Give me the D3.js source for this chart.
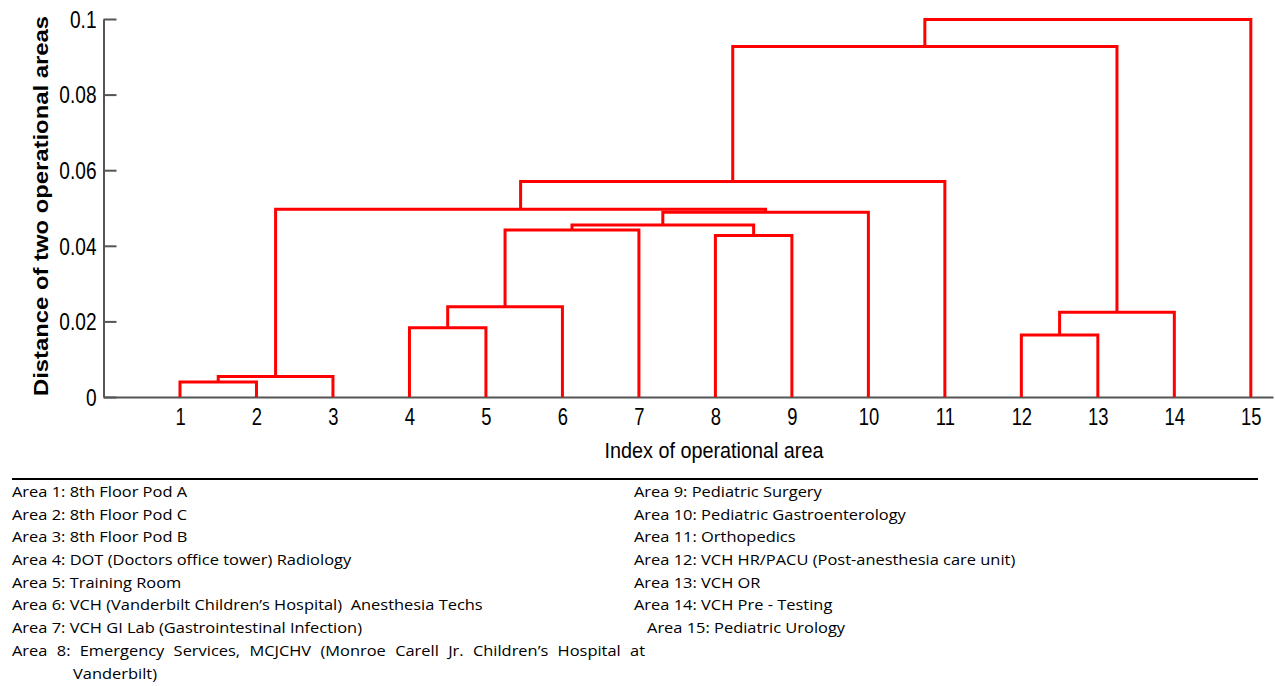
<!DOCTYPE html>
<html>
<head>
<meta charset="utf-8">
<script src="https://cdn.jsdelivr.net/npm/d3@7/dist/d3.min.js"></script>
<style>
  body { margin: 0; background: #fff; }
  .tick text { font-family: "Liberation Sans", Arial, sans-serif; fill: #000; }
  .legend text { font-family: "Open Sans", sans-serif; font-size: 14.3px; fill: #000; white-space: pre; }
</style>
</head>
<body>
<svg id="chart" width="1275" height="686"></svg>
<script>
// leaves shown on the x axis
const leaves = [1, 2, 3, 4, 5, 6, 7, 8, 9, 10, 11, 12, 13, 14, 15];
// merges (MATLAB style: node 16.. are clusters)
const mergeLeft  = [1, 16, 4, 18, 19, 8, 20, 22, 17, 24, 12, 26, 25, 28];
const mergeRight = [2, 3, 5, 6, 7, 9, 21, 10, 23, 11, 13, 14, 27, 15];
const mergeHeight = [0.0040, 0.0054, 0.0183, 0.0239, 0.0442, 0.0427, 0.0455,
                     0.0489, 0.0497, 0.0570, 0.0164, 0.0224, 0.0927, 0.0999];
const yTicks = [0, 0.02, 0.04, 0.06, 0.08, 0.1];

const legendLeft = [
  "Area 1: 8th Floor Pod A",
  "Area 2: 8th Floor Pod C",
  "Area 3: 8th Floor Pod B",
  "Area 4: DOT (Doctors office tower) Radiology",
  "Area 5: Training Room",
  "Area 6: VCH (Vanderbilt Children\u2019s Hospital)  Anesthesia Techs",
  "Area 7: VCH GI Lab (Gastrointestinal Infection)",
  "Area 8: Emergency Services, MCJCHV (Monroe Carell Jr. Children\u2019s Hospital at",
  "Vanderbilt)"
];
const legendRight = [
  "Area 9: Pediatric Surgery",
  "Area 10: Pediatric Gastroenterology",
  "Area 11: Orthopedics",
  "Area 12: VCH HR/PACU (Post-anesthesia care unit)",
  "Area 13: VCH OR",
  "Area 14: VCH Pre - Testing",
  "Area 15: Pediatric Urology"
];

var svg = d3.select("#chart");

var x = d3.scaleLinear().domain([0, 15.29]).range([103.5, 1273]);
var y = d3.scaleLinear().domain([0, 0.1]).range([397, 19]);

// node positions / heights
var pos = {}, hgt = {};
leaves.forEach(function(l) { pos[l] = l; hgt[l] = 0; });
mergeLeft.forEach(function(a, i) {
  var b = mergeRight[i], id = 16 + i;
  pos[id] = (pos[a] + pos[b]) / 2;
  hgt[id] = mergeHeight[i];
});

// axes
var sx = 0.83;
var yAxis = svg.append("g")
  .attr("transform", "translate(" + x(0) + ",0)")
  .call(d3.axisLeft(y).tickValues(yTicks).tickFormat(d3.format("~g"))
    .tickSizeInner(-13).tickSizeOuter(0));
yAxis.select(".domain").attr("stroke", "#555").attr("stroke-width", 2);
yAxis.selectAll(".tick line").attr("stroke", "#555").attr("stroke-width", 2);
yAxis.selectAll(".tick text").attr("font-size", 23)
  .attr("x", -7 / sx).attr("dy", "0.36em")
  .attr("transform", "scale(" + sx + ",1)");

var xAxis = svg.append("g")
  .attr("transform", "translate(0," + y(0) + ")")
  .call(d3.axisBottom(x).tickValues(leaves).tickSize(0).tickPadding(12));
xAxis.select(".domain").attr("stroke", "#555").attr("stroke-width", 2);
xAxis.selectAll(".tick text").attr("font-size", 23)
  .attr("transform", "scale(0.8,1)");

// dendrogram links
svg.append("g").selectAll("path")
  .data(mergeLeft.map(function(a, i) { return {a: a, b: mergeRight[i], h: mergeHeight[i]}; }))
  .enter().append("path")
  .attr("d", function(d) {
    return "M" + x(pos[d.a]) + "," + y(hgt[d.a]) +
           "V" + y(d.h) + "H" + x(pos[d.b]) + "V" + y(hgt[d.b]);
  })
  .attr("fill", "none")
  .attr("stroke", "#ff0000")
  .attr("stroke-width", 3)
  .attr("stroke-linejoin", "miter");

// axis titles
svg.append("text")
  .attr("transform", "translate(48,206) rotate(-90)")
  .attr("text-anchor", "middle")
  .attr("font-family", "Liberation Sans, Arial, sans-serif")
  .attr("font-weight", "bold")
  .attr("font-size", 21)
  .attr("textLength", 380)
  .attr("lengthAdjust", "spacingAndGlyphs")
  .text("Distance of two operational areas");

svg.append("text")
  .attr("transform", "translate(714,458) scale(0.9,1)")
  .attr("text-anchor", "middle")
  .attr("font-family", "Liberation Sans, Arial, sans-serif")
  .attr("font-size", 22)
  .text("Index of operational area");

// separator
svg.append("line")
  .attr("x1", 12).attr("x2", 1258).attr("y1", 479).attr("y2", 479)
  .attr("stroke", "#000").attr("stroke-width", 2);

// legend (text is a bit wide in the original, stretch it)
var ls = 1.15;
var lg = svg.append("g").attr("class", "legend")
  .attr("transform", "scale(" + ls + ",1)");
lg.selectAll("text.l").data(legendLeft).enter().append("text")
  .attr("x", function(d, i) { return (i === 8 ? 73 : 12) / ls; })
  .attr("y", function(d, i) { return 497 + i * 22.7; })
  .text(function(d) { return d; });
lg.selectAll("text.r").data(legendRight).enter().append("text")
  .attr("x", function(d, i) { return (i === 6 ? 647 : 634) / ls; })
  .attr("y", function(d, i) { return 497 + i * 22.7; })
  .text(function(d) { return d; });

// area 8 line is justified up to x=645
lg.selectAll("text").filter(function(d, i) { return d === legendLeft[7]; })
  .each(function(d) {
    var len = this.getComputedTextLength();
    var spaces = d.split(" ").length - 1;
    var target = (645 - 12) / ls;
    d3.select(this).style("word-spacing", Math.max(0, (target - len) / spaces) + "px");
  });
</script>
</body>
</html>
